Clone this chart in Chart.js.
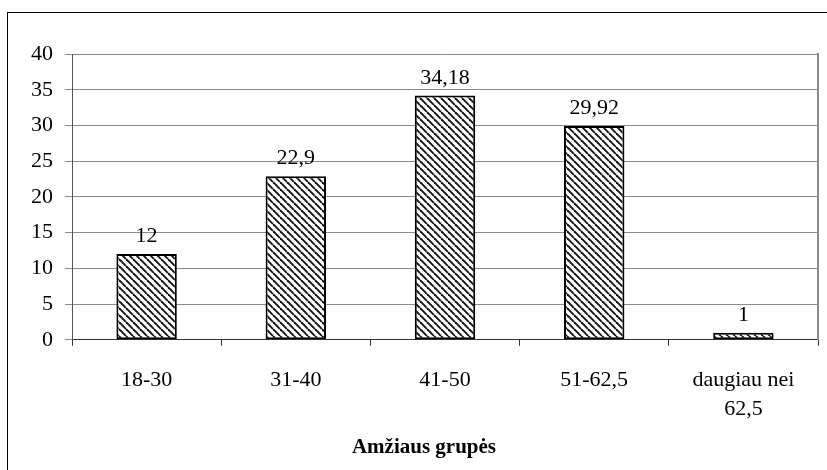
<!DOCTYPE html>
<html>
<head>
<meta charset="utf-8">
<script src="https://cdn.jsdelivr.net/npm/chart.js@4/dist/chart.umd.min.js"></script>
<style>
  html, body { margin: 0; padding: 0; background: #fff; overflow: hidden; }
  #wrap { position: relative; width: 827px; height: 470px; overflow: hidden; }
  #frame { position: absolute; left: 7px; top: 12px; width: 900px; height: 500px;
           border-left: 1px solid #000; border-top: 1px solid #000; }
  canvas { position: absolute; left: 0; top: 0; }
</style>
</head>
<body>
<div id="wrap">
  <div id="frame"></div>
  <canvas id="c" width="827" height="470"></canvas>
</div>
<script>
// Age groups and their shares
const categories = ['18-30', '31-40', '41-50', '51-62,5', ['daugiau nei', '62,5']];
const shares = [12, 22.9, 34.18, 29.92, 1];
const yMin = 0;
const yMax = 40;
const yStep = 5;
const axisTitle = 'Amžiaus grupės';

const FONT = '"Liberation Serif", "Times New Roman", serif';

const canvas = document.getElementById('c');
const ctx = canvas.getContext('2d');

// Diagonal hatch fill for the bars
function hatchPattern() {
  const s = 7;
  const p = document.createElement('canvas');
  p.width = s; p.height = s;
  const g = p.getContext('2d');
  g.fillStyle = '#fff';
  g.fillRect(0, 0, s, s);
  g.strokeStyle = '#111';
  g.lineWidth = 1.9;
  for (const o of [-s, 0, s]) {
    g.beginPath();
    g.moveTo(o, 0);
    g.lineTo(o + s, s);
    g.stroke();
  }
  return ctx.createPattern(p, 'repeat');
}

// Value written above each bar, with a decimal comma
const valueLabels = {
  id: 'valueLabels',
  afterDatasetsDraw(chart) {
    const c = chart.ctx;
    const meta = chart.getDatasetMeta(0);
    c.save();
    c.font = '22px ' + FONT;
    c.fillStyle = '#000';
    c.textAlign = 'center';
    c.textBaseline = 'alphabetic';
    meta.data.forEach((bar, i) => {
      c.fillText(String(shares[i]).replace('.', ','), bar.x, bar.y - 12);
    });
    c.restore();
  }
};

new Chart(ctx, {
  type: 'bar',
  data: {
    labels: categories,
    datasets: [{
      data: shares,
      backgroundColor: hatchPattern(),
      borderColor: '#000',
      borderWidth: 2,
      borderSkipped: false,
      categoryPercentage: 1,
      barPercentage: 0.405
    }]
  },
  options: {
    responsive: false,
    animation: false,
    devicePixelRatio: 1,
    layout: { padding: { left: 21, top: 54, right: 0, bottom: 0 } },
    plugins: {
      legend: { display: false },
      tooltip: { enabled: false },
      title: {
        display: true,
        position: 'bottom',
        text: axisTitle,
        color: '#000',
        font: { family: FONT, size: 21, weight: 'bold', lineHeight: 1.2 },
        padding: { top: 0, bottom: 10 }
      }
    },
    scales: {
      x: {
        grid: { drawOnChartArea: false, drawTicks: true, tickLength: 6, color: '#333', offset: true },
        border: { display: true, color: '#333', width: 1 },
        ticks: {
          color: '#000',
          padding: 19,
          maxRotation: 0,
          autoSkip: false,
          font: { family: FONT, size: 22, lineHeight: 1.36 }
        },
        afterFit(scale) { scale.height = 95; }
      },
      y: {
        min: yMin,
        max: yMax,
        grid: { color: '#8a8a8a', lineWidth: 1, drawTicks: true, tickLength: 7 },
        border: { display: true, color: '#555', width: 1 },
        ticks: {
          stepSize: yStep,
          color: '#000',
          padding: 12,
          font: { family: FONT, size: 22 }
        },
        afterFit(scale) { scale.width = 51; }
      },
      y2: {
        position: 'right',
        grid: { display: false, drawTicks: false },
        border: { display: true, color: '#8a8a8a', width: 2 },
        ticks: { display: false },
        afterFit(scale) { scale.width = 9; }
      }
    }
  },
  plugins: [valueLabels]
});
</script>
</body>
</html>
